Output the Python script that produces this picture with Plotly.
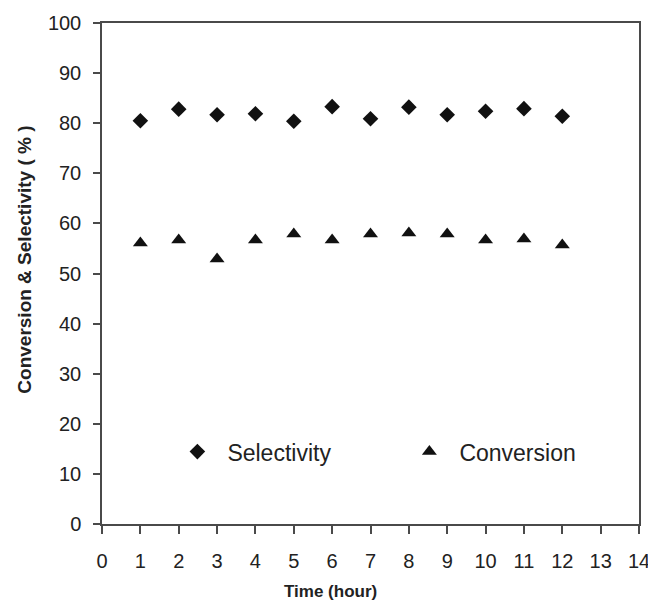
import plotly.graph_objects as go

time_hours = [1, 2, 3, 4, 5, 6, 7, 8, 9, 10, 11, 12]
selectivity = [80.5, 82.8, 81.7, 81.9, 80.4, 83.3, 80.9, 83.2, 81.7, 82.4, 82.9, 81.4]
conversion = [56.1, 56.7, 52.9, 56.7, 57.9, 56.7, 57.9, 58.1, 57.9, 56.7, 56.9, 55.7]
x_ticks = list(range(0, 15))
y_ticks = list(range(0, 101, 10))

FONT = "Liberation Sans, Arial, sans-serif"
AXC = "#4a4a4a"
TXT = "#222222"

# page has an 8px body margin; figure sized to fit inside the 656x606 window
W, H = 648, 598
L, T = 93.5, 14.5
PW, PH = 538, 502
R, B = W - L - PW, H - T - PH

fig = go.Figure()
fig.add_trace(go.Scatter(
    x=time_hours, y=selectivity, mode="markers", name="Selectivity",
    marker=dict(symbol="diamond", size=12, color="#111111"),
))
fig.add_trace(go.Scatter(
    x=time_hours, y=conversion, mode="markers", name="Conversion",
    marker=dict(symbol="triangle-up", size=13, color="#111111"),
))

fig.update_layout(
    template="none",
    width=W, height=H,
    margin=dict(l=L, r=R, t=T, b=B, pad=0, autoexpand=False),
    paper_bgcolor="white", plot_bgcolor="white",
    font=dict(family=FONT, color=TXT),
    showlegend=True,
    legend=dict(
        orientation="h", x=(159 - L) / PW, y=(T + PH - 444) / PH,
        xanchor="left", yanchor="middle",
        font=dict(size=23, family=FONT, color=TXT),
        itemwidth=50, entrywidth=167, entrywidthmode="pixels",
        bgcolor="rgba(0,0,0,0)", borderwidth=0,
    ),
    xaxis=dict(
        range=[0, 14], tickmode="array", tickvals=x_ticks,
        ticktext=[str(v) for v in x_ticks], automargin=False,
        showgrid=False, zeroline=False,
        showline=True, linecolor=AXC, linewidth=1.5, mirror=True,
        ticks="outside", ticklen=8, tickcolor=AXC, tickwidth=1.5,
        ticklabelstandoff=10,
        tickfont=dict(size=20, family=FONT, color=TXT),
    ),
    yaxis=dict(
        range=[0, 100], tickmode="array", tickvals=y_ticks,
        ticktext=[str(v) for v in y_ticks], automargin=False,
        showgrid=False, zeroline=False,
        showline=True, linecolor=AXC, linewidth=1.5, mirror=True,
        ticks="outside", ticklen=7, tickcolor=AXC, tickwidth=1.5,
        ticklabelstandoff=8,
        tickfont=dict(size=20, family=FONT, color=TXT),
    ),
    annotations=[
        dict(text="<b>Time (hour)</b>", xref="paper", yref="paper",
             x=(322 - L) / PW, y=-(584 - (T + PH)) / PH,
             xanchor="center", yanchor="middle", showarrow=False,
             font=dict(size=17, family=FONT, color=TXT)),
        dict(text="<b>Conversion &amp; Selectivity ( % )</b>", xref="paper", yref="paper",
             x=-(L - 15) / PW, y=(T + PH - 252) / PH, textangle=-90,
             xanchor="center", yanchor="middle", showarrow=False,
             font=dict(size=19, family=FONT, color=TXT)),
    ],
)

fig.write_html("out.html")
